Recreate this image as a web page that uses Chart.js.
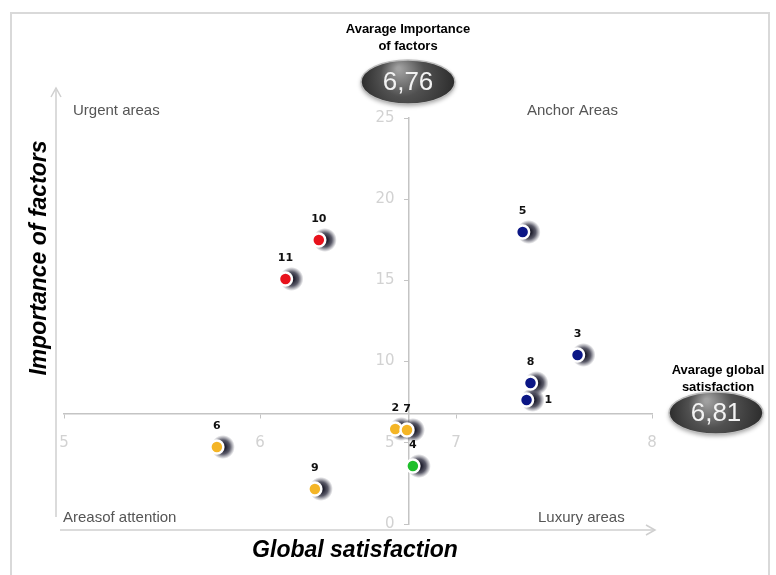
<!DOCTYPE html>
<html>
<head>
<meta charset="utf-8">
<script src="https://cdn.jsdelivr.net/npm/chart.js@4/dist/chart.umd.min.js"></script>
<style>
  html, body { margin: 0; padding: 0; background: #ffffff; }
  #wrap { width: 776px; height: 575px; }
</style>
</head>
<body>
<div id="wrap"><canvas id="quadrantChart" width="776" height="575"></canvas></div>
<script>
/*
  Importance / satisfaction quadrant map.
  Factors are plotted as dots; axes cross at the two averages.
*/
const factorIds = ["1", "2", "3", "4", "5", "6", "7", "8", "9", "10", "11"];
const satisfaction = [7.36, 6.69, 7.62, 6.78, 7.34, 5.78, 6.75, 7.38, 6.28, 6.30, 6.13];
const importance = [7.64, 5.85, 10.41, 3.57, 17.98, 4.74, 5.79, 8.68, 2.16, 17.49, 15.09];
const factorGroup = ["anchor", "luxury", "anchor", "luxury", "anchor", "attention", "luxury", "anchor", "attention", "urgent", "urgent"];
const labelSide = ["right", "top", "top", "top", "top", "top", "top", "top", "top", "top", "top"];

const avgSatisfaction = 6.76;
const avgImportance = 6.81;
const avgSatisfactionText = "6,76";
const avgImportanceText = "6,81";

const xTicks = [5, 6, 7, 8];
const yTicks = [0, 5, 10, 15, 20, 25];

const groupColors = {
  anchor: "#0b1685",
  luxury: "#f4b526",
  attention: "#f4b526",
  urgent: "#e8121c",
};
// factor 4 sits in its own colour
const pointColors = factorIds.map((id, i) => (id === "4" ? "#1fbf2c" : groupColors[factorGroup[i]]));

const quadrantNames = {
  urgent: "Urgent areas",
  anchor: "Anchor Areas",
  attention: "Areasof attention",
  luxury: "Luxury areas",
};

const narrow = "'Liberation Sans Narrow', 'Arial Narrow', 'Liberation Sans', sans-serif";

function drawBadge(ctx, cx, cy, rx, ry, text) {
  ctx.save();
  // soft drop shadow
  ctx.shadowColor = "rgba(0,0,0,0.35)";
  ctx.shadowBlur = 4;
  ctx.shadowOffsetY = 2;
  const grad = ctx.createRadialGradient(cx - rx * 0.2, cy - ry * 0.6, 2, cx, cy, rx);
  grad.addColorStop(0, "#a0a0a0");
  grad.addColorStop(0.45, "#505050");
  grad.addColorStop(1, "#2c2c2c");
  ctx.beginPath();
  ctx.ellipse(cx, cy, rx, ry, 0, 0, Math.PI * 2);
  ctx.fillStyle = grad;
  ctx.fill();
  ctx.shadowColor = "transparent";
  ctx.lineWidth = 1.5;
  ctx.strokeStyle = "#bdbdbd";
  ctx.stroke();
  ctx.fillStyle = "#f2f2f2";
  ctx.font = "26px " + narrow;
  ctx.textAlign = "center";
  ctx.textBaseline = "middle";
  ctx.fillText(text, cx, cy + 1);
  ctx.restore();
}

function arrowHead(ctx, x, y, dir) {
  ctx.beginPath();
  if (dir === "up") {
    ctx.moveTo(x - 5, y + 9); ctx.lineTo(x, y); ctx.lineTo(x + 5, y + 9);
  } else {
    ctx.moveTo(x - 9, y - 5); ctx.lineTo(x, y); ctx.lineTo(x - 9, y + 5);
  }
  ctx.stroke();
}

const decorPlugin = {
  id: "decor",
  beforeDraw(chart) {
    const ctx = chart.ctx;
    ctx.save();
    // outer frame
    ctx.strokeStyle = "#d9d9d9";
    ctx.lineWidth = 2;
    ctx.strokeRect(11, 13, 758, 600);
    // outer L-shaped axes with arrows
    ctx.strokeStyle = "#cfcfcf";
    ctx.lineWidth = 1.5;
    ctx.beginPath();
    ctx.moveTo(56, 90); ctx.lineTo(56, 517);
    ctx.moveTo(60, 530); ctx.lineTo(654, 530);
    ctx.stroke();
    arrowHead(ctx, 56, 88, "up");
    arrowHead(ctx, 655, 530, "right");
    ctx.restore();
  },
  beforeDatasetsDraw(chart) {
    const ctx = chart.ctx;
    const meta = chart.getDatasetMeta(0);
    ctx.save();
    // dark halo behind every dot, pushed to the right
    meta.data.forEach((pt) => {
      const g = ctx.createRadialGradient(pt.x + 6, pt.y, 1, pt.x + 6, pt.y, 12);
      g.addColorStop(0, "rgba(5,5,20,1)");
      g.addColorStop(0.55, "rgba(20,20,40,0.7)");
      g.addColorStop(1, "rgba(40,40,60,0)");
      ctx.fillStyle = g;
      ctx.beginPath();
      ctx.arc(pt.x + 6, pt.y, 12, 0, Math.PI * 2);
      ctx.fill();
    });
    ctx.restore();
  },
  afterDatasetsDraw(chart) {
    const ctx = chart.ctx;
    const meta = chart.getDatasetMeta(0);
    ctx.save();
    ctx.fillStyle = "#111111";
    ctx.font = "bold 11px 'DejaVu Sans', sans-serif";
    ctx.textBaseline = "middle";
    meta.data.forEach((pt, i) => {
      if (labelSide[i] === "right") {
        ctx.textAlign = "left";
        ctx.fillText(factorIds[i], pt.x + 18, pt.y);
      } else {
        ctx.textAlign = "center";
        ctx.fillText(factorIds[i], pt.x, pt.y - 21);
      }
    });
    ctx.restore();
  },
  afterDraw(chart) {
    const ctx = chart.ctx;
    ctx.save();
    // quadrant names
    ctx.fillStyle = "#555555";
    ctx.font = "15px " + narrow;
    ctx.textBaseline = "middle";
    ctx.textAlign = "left";
    ctx.fillText(quadrantNames.urgent, 73, 111);
    ctx.fillText(quadrantNames.anchor, 527, 111);
    ctx.fillText(quadrantNames.attention, 63, 518);
    ctx.fillText(quadrantNames.luxury, 538, 518);

    // axis titles
    ctx.fillStyle = "#000000";
    ctx.font = "italic bold 23px 'Liberation Sans', Arial, sans-serif";
    ctx.textAlign = "center";
    ctx.fillText("Global satisfaction", 355, 551);
    ctx.save();
    ctx.translate(40, 258);
    ctx.rotate(-Math.PI / 2);
    ctx.fillText("Importance of factors", 0, 0);
    ctx.restore();

    // average callouts
    ctx.font = "bold 13px " + narrow;
    ctx.fillText("Avarage Importance", 408, 29);
    ctx.fillText("of factors", 408, 46);
    ctx.fillText("Avarage global", 718, 370);
    ctx.fillText("satisfaction", 718, 387);
    ctx.restore();

    drawBadge(ctx, 408, 82, 47, 22, avgSatisfactionText);
    drawBadge(ctx, 716, 413, 47, 21, avgImportanceText);
  },
};

const axisGray = "#c4c4c4";

new Chart(document.getElementById("quadrantChart"), {
  type: "scatter",
  data: {
    datasets: [{
      label: "Factors",
      data: satisfaction.map((x, i) => ({ x, y: importance[i] })),
      pointBackgroundColor: pointColors,
      pointBorderColor: "#ffffff",
      pointBorderWidth: 2.5,
      pointRadius: 6.5,
      pointHoverRadius: 6.5,
    }],
  },
  options: {
    responsive: false,
    animation: false,
    devicePixelRatio: 1,
    layout: { padding: { left: 64, right: 124, top: 118, bottom: 51 } },
    plugins: {
      legend: { display: false },
      tooltip: { enabled: false },
    },
    scales: {
      x: {
        type: "linear",
        min: xTicks[0],
        max: xTicks[xTicks.length - 1],
        position: { y: avgImportance },
        afterBuildTicks: (scale) => { scale.ticks = xTicks.map((v) => ({ value: v })); },
        grid: { drawOnChartArea: false, drawTicks: true, tickLength: 4, color: axisGray },
        border: { color: axisGray, width: 1.5 },
        ticks: {
          padding: 17,
          color: "#d2d2d2",
          font: { family: "'DejaVu Sans', sans-serif", size: 15 },
          callback: (v) => String(v),
        },
      },
      y: {
        type: "linear",
        min: yTicks[0],
        max: yTicks[yTicks.length - 1],
        position: { x: avgSatisfaction },
        afterBuildTicks: (scale) => { scale.ticks = yTicks.map((v) => ({ value: v })); },
        grid: { drawOnChartArea: false, drawTicks: true, tickLength: 4, color: axisGray },
        border: { color: axisGray, width: 1.5 },
        ticks: {
          color: "#d2d2d2",
          font: { family: "'DejaVu Sans', sans-serif", size: 15 },
          callback: (v) => v + "   ",
        },
      },
    },
  },
  plugins: [decorPlugin],
});
</script>
</body>
</html>
